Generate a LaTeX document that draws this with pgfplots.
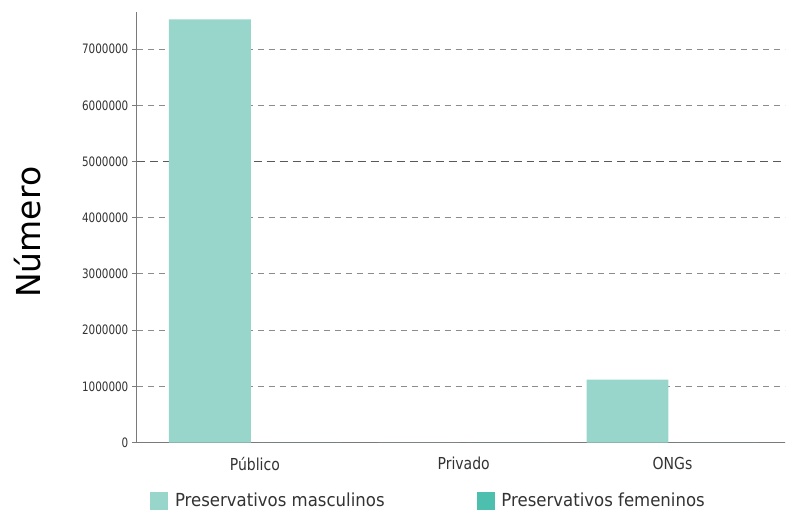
\documentclass[border=0pt]{standalone}
\usepackage{fontspec}
\setmainfont{DejaVu Sans}
\newfontfamily\tickfont[FakeStretch=0.8]{DejaVu Sans}
\newfontfamily\catfont[FakeStretch=0.85]{DejaVu Sans}
\newfontfamily\legfont[FakeStretch=0.92]{DejaVu Sans}
\usepackage{pgfplots}
\pgfplotsset{compat=1.18}
\definecolor{masc}{HTML}{98D6CC}
\definecolor{fem}{HTML}{4DBFAE}
\definecolor{axisgray}{HTML}{7A7A7A}
\definecolor{gridgray}{HTML}{8C8C8C}
\definecolor{txt}{HTML}{333333}
\begin{document}
\begin{tikzpicture}
\begin{axis}[
  scale only axis,
  width=649pt, height=431pt,
  ybar, bar width=82pt,
  xmin=-0.565, xmax=2.54,
  ymin=0, ymax=7660000,
  axis lines*=left,
  axis line style={axisgray, line width=1.2pt},
  xtick={0,1,2},
  xticklabels={Público,Privado,ONGs},
  xtick style={draw=none},
  x tick label style={font=\catfont\fontsize{16.5}{18}\selectfont, text=txt, yshift=-6pt},
  scaled y ticks=false,
  ytick={0,1000000,2000000,3000000,4000000,6000000,7000000},
  yticklabels={0,1000000,2000000,3000000,4000000,6000000,7000000},
  extra y ticks={5000000},
  extra y tick labels={5000000},
  extra y tick style={major grid style={black!65, line width=1.5pt, dash pattern=on 8pt off 5pt}},
  y tick label style={font=\tickfont\fontsize{13}{15}\selectfont, text=txt},
  ytick style={axisgray, line width=1pt},
  tick align=outside, major tick length=5pt,
  ymajorgrids,
  major grid style={gridgray, dash pattern=on 6pt off 5pt, line width=0.9pt},
  ylabel={Número},
  ylabel style={font=\fontsize{33}{36}\selectfont, text=black, at={(rel axis cs:0,0.5)}, anchor=center, yshift=109pt, xshift=-5pt},
  legend style={draw=none, at={(rel axis cs:0.0154,-0.1346)}, anchor=west,
    font=\legfont\fontsize{18}{20}\selectfont, text=txt, legend columns=2,
    /tikz/every even column/.style={column sep=90pt}},
  legend image code/.code={\fill[#1] (0pt,-9pt) rectangle (18pt,9pt); \path (23pt,0pt);},
  clip=false,
]
\addplot[fill=masc, draw=none, bar shift=-45pt] coordinates {(0,7530000) (1,0) (2,1120000)};
\addplot[fill=fem, draw=none, bar shift=45pt] coordinates {(0,0) (1,0) (2,0)};
\legend{Preservativos masculinos, Preservativos femeninos}
\coordinate (bl) at (rel axis cs:0,0);
\coordinate (tr) at (rel axis cs:1,1);
\end{axis}
\path ([shift={(-137pt,-68pt)}]bl) rectangle ([shift={(0pt,12pt)}]tr);
\end{tikzpicture}
\end{document}
